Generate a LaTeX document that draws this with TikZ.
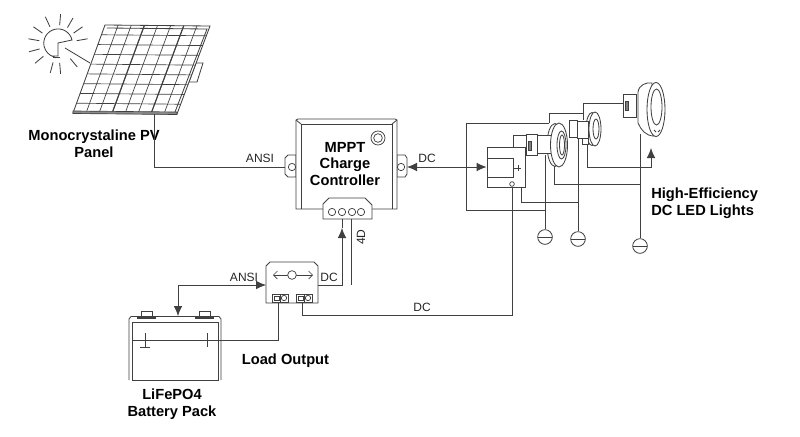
\documentclass[tikz,border=0pt]{standalone}
\usepackage{fontspec}
\setmainfont{Liberation Sans}
\usetikzlibrary{calc}
\usetikzlibrary{arrows.meta}
\tikzset{
  wire/.style={draw=black!75,line width=0.62pt},
  part/.style={draw=black!75,line width=0.62pt,fill=white},
  tag/.style={inner sep=0pt,font=\fontsize{9}{11}\selectfont,text=black!85},
  title/.style={inner sep=0pt,align=center,font=\fontsize{11}{12.6}\selectfont\bfseries},
  hole/.style={circle,draw=black!75,line width=0.55pt,fill=white,inner sep=0pt,minimum size=5.5pt},
  gnd/.style={circle,draw=black!75,line width=0.62pt,fill=white,inner sep=0pt,minimum size=11pt,
    path picture={\draw[black!75] (path picture bounding box.west) -- (path picture bounding box.east);}},
  tip/.style={-{Latex[length=7.5pt,width=6.5pt]}},
  both/.style={{Latex[length=7.5pt,width=6.5pt]}-{Latex[length=7.5pt,width=6.5pt]}}
}
\begin{document}
\begin{tikzpicture}[x=0.75pt,y=-0.75pt]
\useasboundingbox (0,0) rectangle (800,436);
\fill[white] (0,0) rectangle (800,436);
% sun
\coordinate (sun) at (58,44);
\foreach \a in {-10,-35,-60,-85,-115,-145,-170,165,140,105,85,50}
  \draw[wire] ($(sun)+(\a:19)$) -- ($(sun)+(\a:30)$);
\draw[wire] (72,40) arc[start angle=-13,end angle=-253,radius=14.3]
            -- (53,56) -- (58,56) -- (58,43) -- cycle;
\draw[wire] (53,57.5) -- (60,57.5);
% panel
\coordinate (pa) at (105,25);
\coordinate (pb) at (210,26);
\coordinate (pc) at (177,114);
\coordinate (pd) at (73,113);
\draw[wire] (65,48) -- (90,63);
\draw[part] (196,63) -- (203,63) -- (197,82) -- (189,82) -- cycle;
\draw[part] (pa) -- (pb) -- (pc) -- (pd) -- cycle;
\draw[wire] ($(pa)+(2,3)$) -- ($(pb)+(-3,3)$) -- ($(pc)+(-2,-2)$);
\foreach \i in {1,...,7}
  \draw[wire,line width=0.5pt] ($(pa)!\i/8!(pb)$) -- ($(pd)!\i/8!(pc)$);
\foreach \i in {3,6}
  \draw[black!75,line width=0.85pt] ($(pa)!\i/8!(pb)$) -- ($(pd)!\i/8!(pc)$);
\foreach \i in {1,...,8}
  \draw[wire,line width=0.5pt] ($(pa)!\i/9!(pd)$) -- ($(pb)!\i/9!(pc)$);
\draw[draw=black!75,fill=black!45,line width=0.5pt] (73,111) -- (177,112) -- (177,114.5) -- (73,113.5) -- cycle;
\coordinate (panelout) at (154,114);
\node[title] (panellabel) at (94,143.5) {Monocrystaline PV\\Panel};
% charge controller
\draw[part] (296,155) -- (288,155) -- (285,158) -- (285,174) -- (288,177) -- (296,177) -- cycle;
\draw[part] (397,155) -- (405,155) -- (407,158) -- (407,174) -- (405,177) -- (397,177) -- cycle;
\draw[part] (296,209) -- (296,120) -- (298,119) -- (395,119) -- (397,120) -- (397,209) -- cycle;
\draw[wire] (301,209) -- (301,124) -- (392,124) -- (392,209);
\draw[wire] (296,120) -- (301,124) (397,120) -- (392,124);
\node[hole] (ctrlholeL) at (292,167) {};
\node[hole] (ctrlholeR) at (401,167) {};
\coordinate (ctrlL) at (285,167);
\coordinate (ctrlR) at (407,167);
\node[hole,minimum size=10.5pt] (knob) at (378,138) {};
\node[hole,minimum size=6.5pt] (knobin) at (378,138) {};
\node[title] (ctrllabel) at (345,164) {MPPT\\Charge\\Controller};
\draw[part] (323,219) -- (323,204) -- (329,198) -- (365,198) -- (372,205) -- (372,219) -- cycle;
\foreach \n/\x in {a/332,b/342,c/352,d/361}
  \node[hole] (pin\n) at (\x,212) {};
\coordinate (ctrlin) at (342,219);
\coordinate (ctrlout) at (351,219);
% load box
\draw[part] (266,303) -- (266,266) -- (270,262) -- (314,262) -- (318,266) -- (318,303) -- cycle;
\coordinate (loadL) at (266,285);
\coordinate (loadR) at (318,285);
\coordinate (loadA) at (278,303);
\coordinate (loadB) at (302,303);
\draw[wire,line width=0.5pt,{Straight Barb[length=3pt]}-{Straight Barb[length=3pt]}] (273,275) -- (313,275);
\node[hole,minimum size=6.5pt] (loadknob) at (292,275) {};
\draw[part] (272,294) rectangle (288,302) (296,294) rectangle (312,302);
\draw[wire,line width=0.5pt] (280,294) -- (280,302) (304,294) -- (304,302);
\draw[wire,line width=0.5pt] (274,296) rectangle (279,300.5) (298,296) rectangle (303,300.5);
\node[hole,minimum size=4pt] (loadpina) at (284,298) {};
\node[hole,minimum size=4pt] (loadpinb) at (308,298) {};
% battery
\draw[part] (141,318) -- (141,311) -- (152,311) -- (152,318);
\draw[part] (199,318) -- (199,311) -- (210,311) -- (210,318);
\draw[wire,line width=0.9pt] (137,318) -- (156,318) (195,318) -- (214,318);
\draw[wire] (129,380) -- (129,319) -- (131,316.5) -- (219,316.5) -- (221,319) -- (221,380);
\draw[wire] (132,380) -- (132,322) -- (218,322) -- (218,380) -- cycle;
\coordinate (battR) at (221,340);
\coordinate (battT) at (178,316);
\draw[wire] (132,340) -- (battR);
\draw[wire] (145,333) -- (145,347) (140,347) -- (150,347) (207,333) -- (207,347);
\node[title] (battlabel) at (172,404) {LiFePO4\\Battery Pack};
\node[title] (outlabel) at (285.5,361) {Load Output};
% driver and lights
\node[part,minimum width=28.5pt,minimum height=30pt,inner sep=0pt] (driver) at (506,167) {};
\draw[wire] (driver.west |- 0,158) -- (513,158) -- (513,177) -- (driver.west |- 0,177);
\draw[wire] (513,168) -- (521,168) (518,165) -- (518,171);
\node[hole,minimum size=3.5pt] (driverpin) at (512,184) {};
\coordinate (drvtop) at (513,147);
\coordinate (drvbot) at (512,187);
\coordinate (drvgnd) at (521,187);
% outer box
\coordinate (framea) at (549,123);
\coordinate (frameb) at (545,210);
\coordinate (framec) at (466,123);
\draw[wire] (framea) -- (framec) -- (466,210) -- (frameb);
% lamp wires
\coordinate (lampa) at (526,135);
\coordinate (lampb) at (583,120);
\coordinate (lampc) at (623,103);
\node[gnd] (gnda) at (545,237) {};
\node[gnd] (gndb) at (578,239) {};
\node[gnd] (gndc) at (640,246) {};
\coordinate (lampleada) at (545,155);
\coordinate (lampleadb) at (578,138);
\coordinate (lampleadc) at (640,134);
\coordinate (commona) at (554,160);
\coordinate (commonb) at (587,144);
\draw[wire] (drvtop) |- (lampa);
\draw[wire] (framea) -- (549,113) -- (583,113) -- (lampb);
\draw[wire] (583,113) -- (583,103) -- (lampc);
\draw[wire] (lampleada) -- (gnda);
\draw[wire] (lampleadb) -- (gndb);
\draw[wire] (lampleadc) -- (gndc);
\draw[wire] (drvgnd) |- (578,202);
\draw[wire] (commona) |- (640,184);
\draw[tip,wire] (commonb) |- (651,167) -- (651,148);
% lamp one
\draw[part] (555,145) ellipse (8 and 21.5);
\draw[part] (526,134) rectangle (537,155);
\draw[wire,fill=black!50] (528.5,141) rectangle (531.5,150);
\draw[part] (537,135) rectangle (552,153);
\draw[part] (559,145) ellipse (8.5 and 22);
\draw[wire] (561.5,145) ellipse (4.5 and 14);
\draw[wire] (562,145) ellipse (2.5 and 10);
% lamp two
\draw[part] (592,129) ellipse (6 and 16.5);
\draw[part] (582,138) rectangle (588,144.5);
\draw[part] (569,120) rectangle (577,137);
\draw[part] (577,121) rectangle (588,138);
\draw[part] (595,129) ellipse (6 and 17);
\draw[wire] (596,129) ellipse (3 and 10);
% lamp three
\draw[part] (638,92) .. controls (639,85) and (646,82) .. (652,83) -- (654,136)
   .. controls (646,136) and (641,130) .. (638,123) -- cycle;
\draw[part] (623,94) rectangle (636,117);
\draw[wire,fill=black!50] (625.5,101) rectangle (628.5,110);
\draw[part] (656,109.5) ellipse (9 and 27);
\draw[wire] (656.5,107) ellipse (5.5 and 18);
\draw[wire] (654,130) -- (656,132) (660,130) -- (658,132);
% main wires
\draw[wire] (panelout) |- (ctrlL);
\draw[wire,both] (ctrlR) -- (driver.west);
\draw[wire,both] (loadL) -| (battT);
\draw[wire] (battR) -| (loadA);
\draw[wire,tip] (loadR) -| (342,228);
\draw[wire] (342,228) -- (ctrlin);
\draw[wire] (ctrlout) -- (351,285);
\draw[wire] (loadB) |- (512,315) -- (drvbot);
% labels
\node[tag] (ansia) at (260,158) {ANSI};
\node[tag] (dca) at (427,158) {DC};
\node[tag] (ansib) at (244,277) {ANSI};
\node[tag] (dcb) at (329,277) {DC};
\node[tag] (dcc) at (422,307) {DC};
\node[tag,rotate=90] (fourd) at (361,237) {4D};
\node[title,align=left,anchor=west] (lightlabel) at (651,203.5) {High-Efficiency\\DC LED Lights};
\end{tikzpicture}
\end{document}
